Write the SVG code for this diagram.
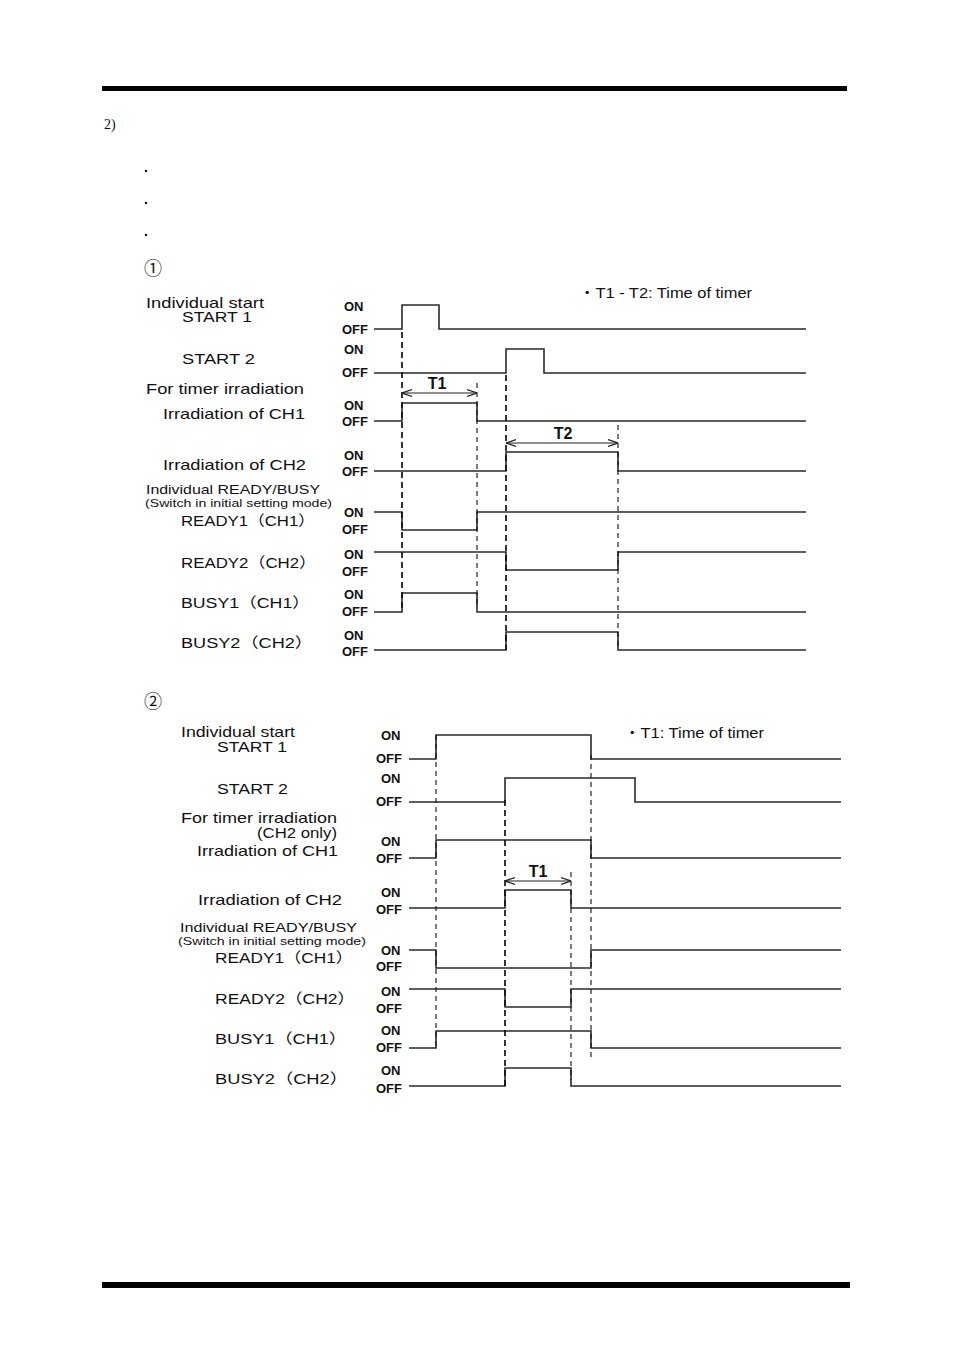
<svg xmlns="http://www.w3.org/2000/svg" width="954" height="1348" viewBox="0 0 954 1348">
<defs>
<style>
.lbl{font-family:"Liberation Sans","Noto Sans CJK JP",sans-serif;font-size:14.5px;fill:#111}
.sm{font-family:"Liberation Sans",sans-serif;font-size:13px;fill:#111}
.xs{font-family:"Liberation Sans",sans-serif;font-size:11.5px;fill:#111}
.oo{font-family:"Liberation Sans",sans-serif;font-size:13px;font-weight:bold;fill:#111}
.tt{font-family:"Liberation Sans",sans-serif;font-size:16px;font-weight:bold;fill:#111}
.ser{font-family:"Liberation Serif","Noto Sans CJK JP",serif;fill:#111}
.w{fill:none;stroke:#2a2a2a;stroke-width:1.6}
.d{fill:none;stroke:#111;stroke-width:1.7;stroke-dasharray:6,4}
.dt{fill:none;stroke:#111;stroke-width:1.1;stroke-dasharray:5,4}
.ar{fill:none;stroke:#222;stroke-width:1.2}
</style>
<marker id="ah" viewBox="0 0 10 10" refX="10" refY="5" markerWidth="10" markerHeight="10" markerUnits="userSpaceOnUse" orient="auto-start-reverse">
<path d="M0,1.5 L10,5 L0,8.5" fill="none" stroke="#222" stroke-width="1.2"/>
</marker>
</defs>
<rect x="102" y="86" width="745" height="5" fill="#000"/>
<rect x="102" y="1282" width="748" height="6" fill="#000"/>
<text class="ser" x="104" y="129" font-size="14">2)</text>
<circle cx="146" cy="171" r="1.2" fill="#111"/>
<circle cx="146" cy="203" r="1.2" fill="#111"/>
<circle cx="146" cy="235" r="1.2" fill="#111"/>
<text class="ser" x="144" y="275" font-size="18">①</text>

<!-- Diagram 1 -->
<g id="d1-note"><text class="lbl" x="579" y="298" textLength="173" lengthAdjust="spacingAndGlyphs">・T1 - T2: Time of timer</text></g>
<g id="d1-start1">
<text class="lbl" x="146" y="308" textLength="118" lengthAdjust="spacingAndGlyphs">Individual start</text>
<text class="lbl" x="182" y="322" textLength="70" lengthAdjust="spacingAndGlyphs">START 1</text>
<text class="oo" x="344" y="311">ON</text><text class="oo" x="342" y="334">OFF</text>
<polyline class="w" points="374,329 402,329 402,305 439,305 439,329 806,329"/>
</g>
<g id="d1-start2">
<text class="lbl" x="182" y="364" textLength="73" lengthAdjust="spacingAndGlyphs">START 2</text>
<text class="oo" x="344" y="354">ON</text><text class="oo" x="342" y="377">OFF</text>
<polyline class="w" points="374,373 506,373 506,349 544,349 544,373 806,373"/>
</g>
<g id="d1-ch1">
<text class="lbl" x="146" y="394" textLength="158" lengthAdjust="spacingAndGlyphs">For timer irradiation</text>
<text class="lbl" x="163" y="419" textLength="142" lengthAdjust="spacingAndGlyphs">Irradiation of CH1</text>
<text class="oo" x="344" y="410">ON</text><text class="oo" x="342" y="426">OFF</text>
<polyline class="w" points="374,421 402,421 402,403 477,403 477,421 806,421"/>
</g>
<g id="d1-ch2">
<text class="lbl" x="163" y="470" textLength="143" lengthAdjust="spacingAndGlyphs">Irradiation of CH2</text>
<text class="oo" x="344" y="460">ON</text><text class="oo" x="342" y="476">OFF</text>
<polyline class="w" points="374,471 506,471 506,452 618,452 618,471 806,471"/>
</g>
<g id="d1-ready1">
<text class="sm" x="146" y="494" textLength="174" lengthAdjust="spacingAndGlyphs">Individual READY/BUSY</text>
<text class="xs" x="145" y="507" textLength="187" lengthAdjust="spacingAndGlyphs">(Switch in initial setting mode)</text>
<text class="lbl" x="181" y="526" textLength="134" lengthAdjust="spacingAndGlyphs">READY1（CH1）</text>
<text class="oo" x="344" y="517">ON</text><text class="oo" x="342" y="534">OFF</text>
<polyline class="w" points="374,512 402,512 402,530 477,530 477,512 806,512"/>
</g>
<g id="d1-ready2">
<text class="lbl" x="181" y="568" textLength="135" lengthAdjust="spacingAndGlyphs">READY2（CH2）</text>
<text class="oo" x="344" y="559">ON</text><text class="oo" x="342" y="576">OFF</text>
<polyline class="w" points="374,552 506,552 506,570 618,570 618,552 806,552"/>
</g>
<g id="d1-busy1">
<text class="lbl" x="181" y="608" textLength="129" lengthAdjust="spacingAndGlyphs">BUSY1（CH1）</text>
<text class="oo" x="344" y="599">ON</text><text class="oo" x="342" y="616">OFF</text>
<polyline class="w" points="374,612 402,612 402,593 477,593 477,612 806,612"/>
</g>
<g id="d1-busy2">
<text class="lbl" x="181" y="648" textLength="132" lengthAdjust="spacingAndGlyphs">BUSY2（CH2）</text>
<text class="oo" x="344" y="640">ON</text><text class="oo" x="342" y="656">OFF</text>
<polyline class="w" points="374,650 506,650 506,632 618,632 618,650 806,650"/>
</g>
<g id="d1-connectors">
<line class="d" x1="402" y1="332" x2="402" y2="612"/>
<line class="dt" x1="477" y1="383" x2="477" y2="605"/>
<line class="d" x1="506" y1="375" x2="506" y2="650"/>
<line class="dt" x1="618" y1="425" x2="618" y2="650"/>
<line class="ar" x1="402" y1="393" x2="477" y2="393" marker-start="url(#ah)" marker-end="url(#ah)"/>
<text class="tt" x="437" y="389" text-anchor="middle">T1</text>
<line class="ar" x1="506" y1="443" x2="618" y2="443" marker-start="url(#ah)" marker-end="url(#ah)"/>
<text class="tt" x="563" y="439" text-anchor="middle">T2</text>
</g>

<!-- Diagram 2 -->
<text class="ser" x="144" y="708" font-size="18">②</text>
<g id="d2-note"><text class="lbl" x="624" y="738" textLength="140" lengthAdjust="spacingAndGlyphs">・T1: Time of timer</text></g>
<g id="d2-start1">
<text class="lbl" x="181" y="737" textLength="114" lengthAdjust="spacingAndGlyphs">Individual start</text>
<text class="lbl" x="217" y="752" textLength="70" lengthAdjust="spacingAndGlyphs">START 1</text>
<text class="oo" x="381" y="740">ON</text><text class="oo" x="376" y="763">OFF</text>
<polyline class="w" points="409,759 436,759 436,735 591,735 591,759 841,759"/>
</g>
<g id="d2-start2">
<text class="lbl" x="217" y="794" textLength="71" lengthAdjust="spacingAndGlyphs">START 2</text>
<text class="oo" x="381" y="783">ON</text><text class="oo" x="376" y="806">OFF</text>
<polyline class="w" points="409,802 505,802 505,778 635,778 635,802 841,802"/>
</g>
<g id="d2-ch1">
<text class="lbl" x="181" y="823" textLength="156" lengthAdjust="spacingAndGlyphs">For timer irradiation</text>
<text class="lbl" x="257" y="838" textLength="80" lengthAdjust="spacingAndGlyphs">(CH2 only)</text>
<text class="lbl" x="197" y="856" textLength="141" lengthAdjust="spacingAndGlyphs">Irradiation of CH1</text>
<text class="oo" x="381" y="846">ON</text><text class="oo" x="376" y="863">OFF</text>
<polyline class="w" points="409,858 436,858 436,840 591,840 591,858 841,858"/>
</g>
<g id="d2-ch2">
<text class="lbl" x="198" y="905" textLength="144" lengthAdjust="spacingAndGlyphs">Irradiation of CH2</text>
<text class="oo" x="381" y="897">ON</text><text class="oo" x="376" y="914">OFF</text>
<polyline class="w" points="409,908 505,908 505,890 571,890 571,908 841,908"/>
</g>
<g id="d2-ready1">
<text class="sm" x="180" y="932" textLength="177" lengthAdjust="spacingAndGlyphs">Individual READY/BUSY</text>
<text class="xs" x="178" y="945" textLength="188" lengthAdjust="spacingAndGlyphs">(Switch in initial setting mode)</text>
<text class="lbl" x="215" y="963" textLength="138" lengthAdjust="spacingAndGlyphs">READY1（CH1）</text>
<text class="oo" x="381" y="955">ON</text><text class="oo" x="376" y="971">OFF</text>
<polyline class="w" points="409,950 436,950 436,968 591,968 591,950 841,950"/>
</g>
<g id="d2-ready2">
<text class="lbl" x="215" y="1004" textLength="140" lengthAdjust="spacingAndGlyphs">READY2（CH2）</text>
<text class="oo" x="381" y="996">ON</text><text class="oo" x="376" y="1013">OFF</text>
<polyline class="w" points="409,989 505,989 505,1007 571,1007 571,989 841,989"/>
</g>
<g id="d2-busy1">
<text class="lbl" x="215" y="1044" textLength="132" lengthAdjust="spacingAndGlyphs">BUSY1（CH1）</text>
<text class="oo" x="381" y="1035">ON</text><text class="oo" x="376" y="1052">OFF</text>
<polyline class="w" points="409,1048 436,1048 436,1031 591,1031 591,1048 841,1048"/>
</g>
<g id="d2-busy2">
<text class="lbl" x="215" y="1084" textLength="133" lengthAdjust="spacingAndGlyphs">BUSY2（CH2）</text>
<text class="oo" x="381" y="1075">ON</text><text class="oo" x="376" y="1093">OFF</text>
<polyline class="w" points="409,1086 505,1086 505,1068 571,1068 571,1086 841,1086"/>
</g>
<g id="d2-connectors">
<line class="dt" x1="436" y1="735" x2="436" y2="1050"/>
<line class="d" x1="505" y1="800" x2="505" y2="1088"/>
<line class="dt" x1="571" y1="872" x2="571" y2="1080"/>
<line class="dt" x1="591" y1="755" x2="591" y2="1060"/>
<line class="ar" x1="505" y1="881" x2="571" y2="881" marker-start="url(#ah)" marker-end="url(#ah)"/>
<text class="tt" x="538" y="877" text-anchor="middle">T1</text>
</g>
</svg>
